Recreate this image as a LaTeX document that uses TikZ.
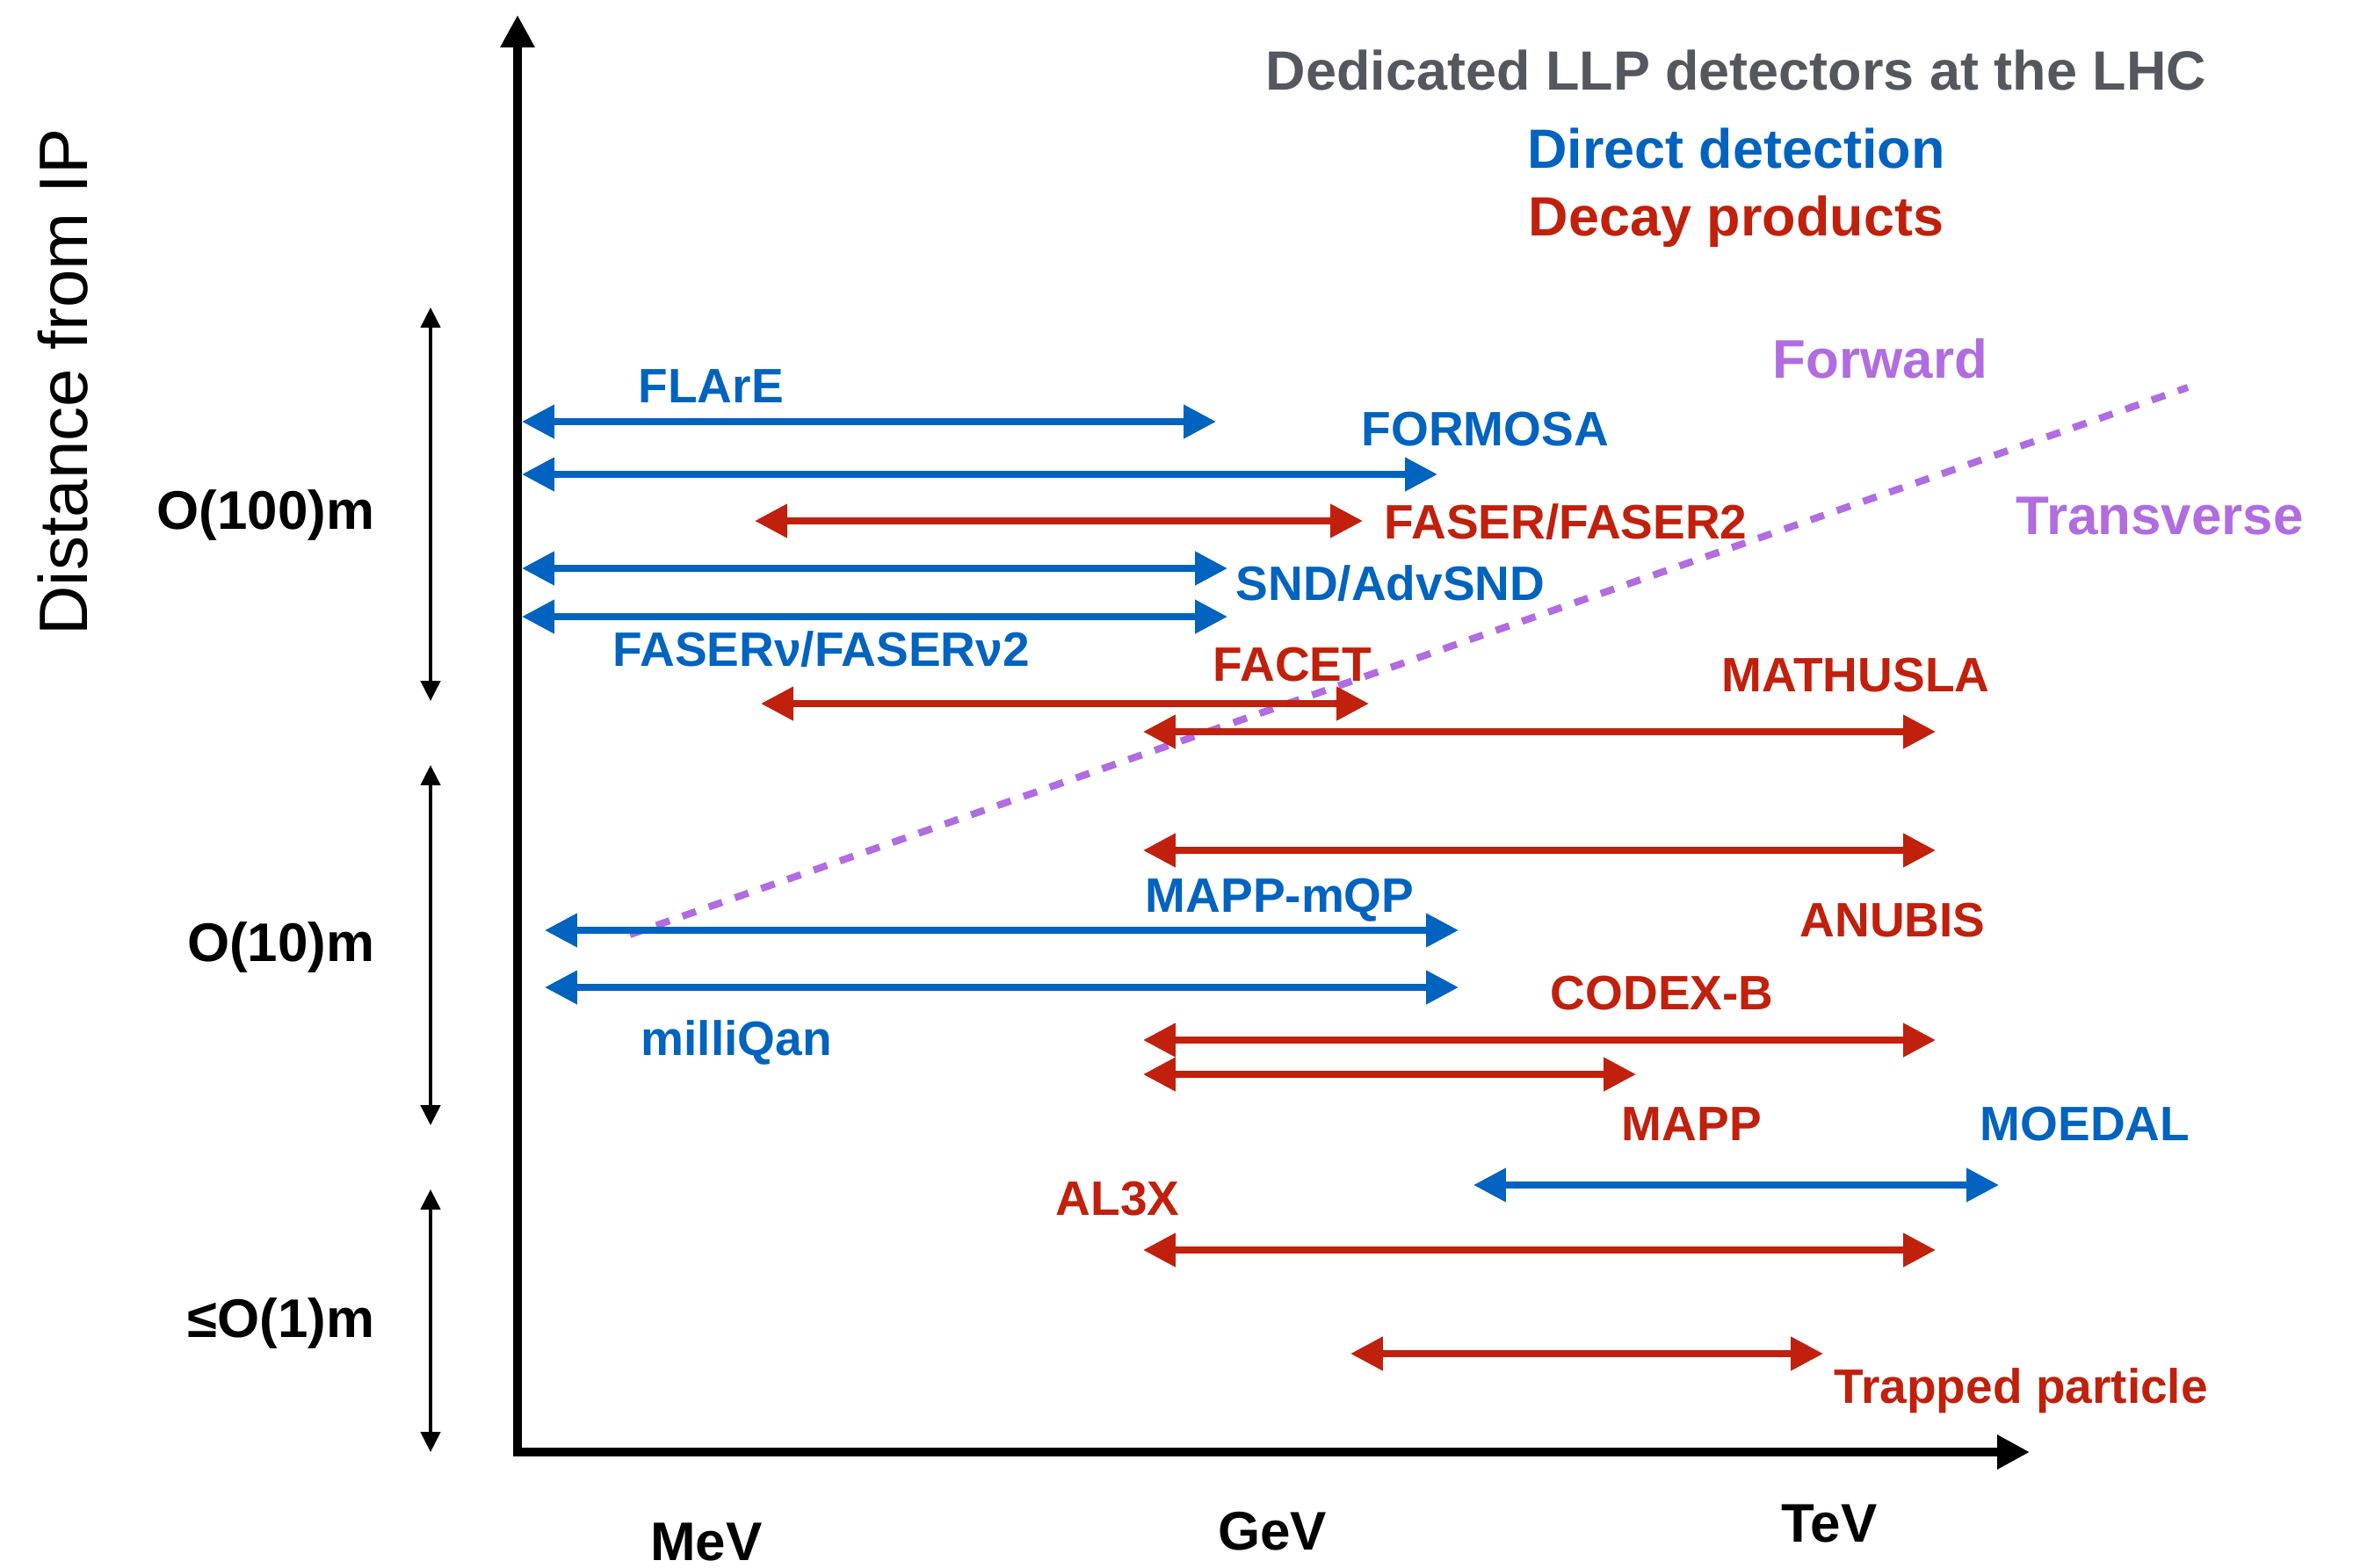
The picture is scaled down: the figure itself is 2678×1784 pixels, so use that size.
\documentclass[tikz,border=0pt]{standalone}
\usepackage{fontspec}
\setmainfont{Liberation Sans}
\usetikzlibrary{arrows.meta}
\definecolor{llpblue}{RGB}{0,99,191}
\definecolor{llpred}{RGB}{192,32,12}
\definecolor{llpgray}{RGB}{84,88,94}
\definecolor{llppurple}{RGB}{176,108,224}
\newcommand{\llparrow}[5]{%
  \coordinate (#1L) at (#3,#5);
  \coordinate (#1R) at (#4,#5);
  \draw[#2] (#1L) -- (#1R);}
\begin{document}
\begin{tikzpicture}[x=0.01cm,y=-0.01cm,
  bluearr/.style={draw=llpblue,line width=2.2pt,{Triangle[length=10.5pt,width=10.5pt]}-{Triangle[length=10.5pt,width=10.5pt]},fill=llpblue},
  redarr/.style={draw=llpred,line width=2.2pt,{Triangle[length=10.5pt,width=10.5pt]}-{Triangle[length=10.5pt,width=10.5pt]},fill=llpred},
  axisline/.style={draw=black,line width=2.6pt,-{Triangle[length=10.5pt,width=10.5pt]}},
  rangearr/.style={draw=black,line width=1.1pt,{Triangle[length=6.5pt,width=6.3pt]}-{Triangle[length=6.5pt,width=6.3pt]}},
  lab/.style={font=\fontsize{15.65pt}{18pt}\selectfont\bfseries,inner sep=0pt,anchor=base west},
  bluelab/.style={lab,text=llpblue},
  redlab/.style={lab,text=llpred},
  headlab/.style={font=\fontsize{17.9pt}{20pt}\selectfont\bfseries,inner sep=0pt,anchor=base},
  axlab/.style={font=\fontsize{17.6pt}{20pt}\selectfont\bfseries,inner sep=0pt},
  purplab/.style={font=\fontsize{17.6pt}{20pt}\selectfont\bfseries,inner sep=0pt,anchor=base west,text=llppurple}
]
\useasboundingbox (0,0) rectangle (2678,1784);
% axes
\coordinate (O) at (589,1653);
\coordinate (Ytop) at (589,17);
\coordinate (Xend) at (2310,1653);
\draw[axisline] (O) -- (Ytop);
\draw[axisline] ([xshift=-1.3pt]O) -- (Xend);
% distance ranges
\coordinate (r1a) at (490,350); \coordinate (r1b) at (490,798);
\coordinate (r2a) at (490,871); \coordinate (r2b) at (490,1281);
\coordinate (r3a) at (490,1354); \coordinate (r3b) at (490,1653);
\draw[rangearr] (r1a) -- (r1b);
\draw[rangearr] (r2a) -- (r2b);
\draw[rangearr] (r3a) -- (r3b);
\node[axlab,anchor=east] (l100) at (427,586) {O(100)m};
\node[axlab,anchor=east] (l10) at (427,1078) {O(10)m};
\node[axlab,anchor=east] (l1) at (427,1506) {≤O(1)m};
\node[font=\fontsize{22.2pt}{24pt}\selectfont,rotate=90,inner sep=0pt] (ylab) at (72,435) {Distance from IP};
% energy labels
\node[axlab,anchor=base] (mev) at (804,1776) {MeV};
\node[axlab,anchor=base] (gev) at (1448,1764) {GeV};
\node[axlab,anchor=base] (tev) at (2082,1755) {TeV};
% headings
\node[headlab,text=llpgray] (title) at (1976,102) {Dedicated LLP detectors at the LHC};
\node[headlab,text=llpblue] (direct) at (1976,191) {Direct detection};
\node[headlab,text=llpred] (decay) at (1976,268) {Decay products};
% forward / transverse boundary
\coordinate (d1) at (717,1064);
\coordinate (d2) at (2490,441);
\draw[draw=llppurple,line width=2.3pt,dash pattern=on 4.6pt off 4.4pt] (d1) -- (d2);
\node[purplab] (fwd) at (2017,430) {Forward};
\node[purplab] (trans) at (2294,608) {Transverse};
% detectors
\llparrow{flare}{bluearr}{594}{1384}{480}
\llparrow{formosa}{bluearr}{594}{1636}{540}
\llparrow{faser}{redarr}{859}{1551}{593}
\llparrow{snd}{bluearr}{594}{1397}{647}
\llparrow{fasernu}{bluearr}{594}{1397}{702}
\llparrow{facet}{redarr}{866}{1558}{801}
\llparrow{mathusla}{redarr}{1301}{2203}{833}
\llparrow{anubis}{redarr}{1301}{2203}{968}
\llparrow{mappmqp}{bluearr}{620}{1660}{1059}
\llparrow{milliqan}{bluearr}{620}{1660}{1124}
\llparrow{codex}{redarr}{1301}{2203}{1184}
\llparrow{mapp}{redarr}{1301}{1862}{1223}
\llparrow{moedal}{bluearr}{1677}{2275}{1349}
\llparrow{alx}{redarr}{1301}{2203}{1423}
\llparrow{trapped}{redarr}{1537}{2075}{1541}
% detector labels
\node[bluelab] (tflare) at (726,458) {FLArE};
\node[bluelab] (tformosa) at (1549,507) {FORMOSA};
\node[redlab] (tfaser) at (1575,613) {FASER/FASER2};
\node[bluelab] (tsnd) at (1406,683) {SND/AdvSND};
\node[bluelab] (tfasernu) at (697,758) {FASERν/FASERν2};
\node[redlab] (tfacet) at (1380,775) {FACET};
\node[redlab] (tmathusla) at (1959,787) {MATHUSLA};
\node[bluelab] (tmappmqp) at (1303,1038) {MAPP-mQP};
\node[redlab] (tanubis) at (2048,1066) {ANUBIS};
\node[redlab] (tcodex) at (1764,1149) {CODEX-B};
\node[bluelab] (tmilliqan) at (729,1201) {milliQan};
\node[redlab] (tmapp) at (1845,1298) {MAPP};
\node[bluelab] (tmoedal) at (2253,1298) {MOEDAL};
\node[redlab] (talx) at (1201,1383) {AL3X};
\node[redlab] (ttrapped) at (2087,1597) {Trapped particle};
\end{tikzpicture}
\end{document}
